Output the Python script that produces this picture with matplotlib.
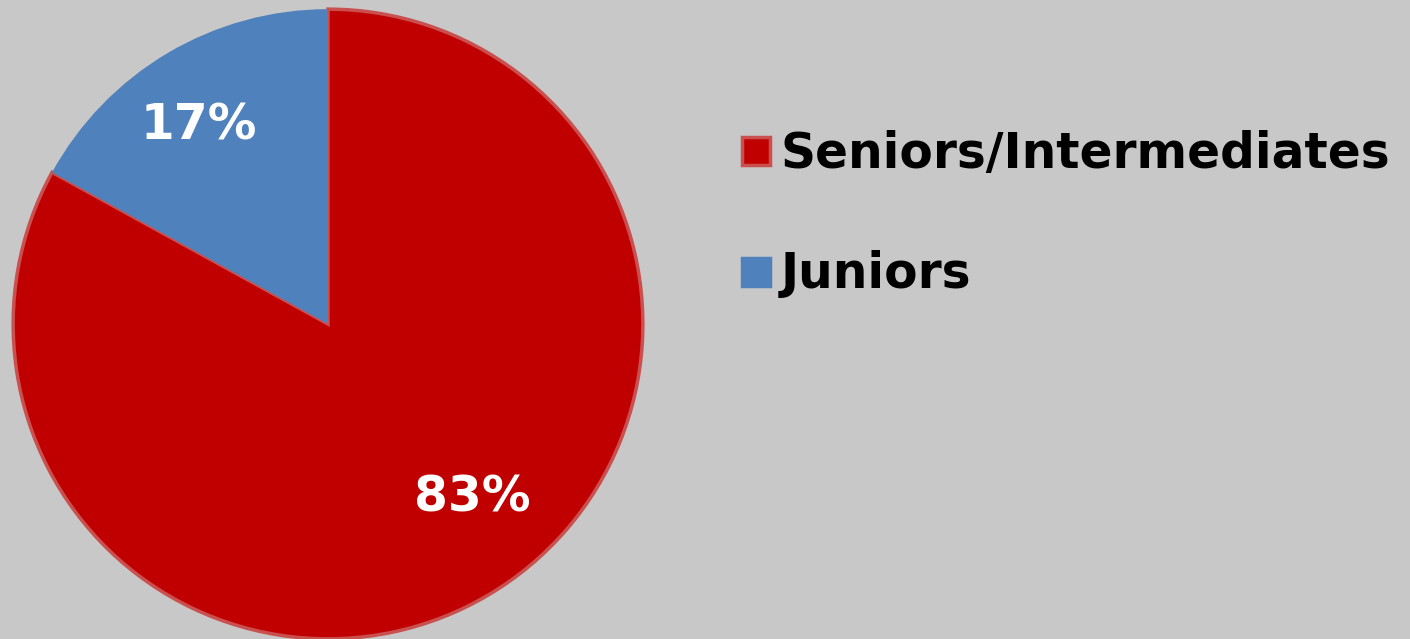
import matplotlib
matplotlib.use("Agg")
import matplotlib.pyplot as plt
from matplotlib.patches import Rectangle

categories = ["Seniors/Intermediates", "Juniors"]
values = [83, 17]
colors = ["#C00000", "#4F81BD"]
edge_colors = ["#C9504F", "#4F81BD"]
pct_labels = ["83%", "17%"]

W, H = 1410, 639
bg = "#C8C8C8"
fig = plt.figure(figsize=(W / 100, H / 100), dpi=100, facecolor=bg)

cx, cy, R = 328, 315, 318
ax = fig.add_axes([(cx - R) / W, (cy - R) / H, 2 * R / W, 2 * R / H])
ax.set_facecolor(bg)
wedges, _ = ax.pie(values, colors=colors, startangle=90, counterclock=False,
                   radius=1, wedgeprops=dict(linewidth=2.5))
for w, ec in zip(wedges, edge_colors):
    w.set_edgecolor(ec)
    w.set_clip_on(False)
wedges[1].set_linewidth(0)
ax.set_xlim(-1.01, 1.01)
ax.set_ylim(-1.01, 1.01)
ax.set_aspect("equal")
ax.axis("off")

label_pos = [(0.457, -0.597), (-0.41, 0.585)]
for (x, y), t in zip(label_pos, pct_labels):
    ax.text(x, y, t, color="white", fontsize=35, fontweight="bold",
            ha="center", va="baseline", family="DejaVu Sans")

# legend
baselines = [168, 288]
sq_centers = [151, 272]
for cat, col, ec, yb, ys in zip(categories, colors, edge_colors, baselines, sq_centers):
    fig.patches.append(Rectangle((742 / W, 1 - (ys + 14) / H), 28 / W, 28 / H,
                                 transform=fig.transFigure, facecolor=col,
                                 edgecolor=ec, linewidth=2.5))
    fig.text(781 / W, 1 - yb / H, cat, fontsize=35, fontweight="bold",
             ha="left", va="baseline", family="DejaVu Sans", color="black")

fig.savefig("out.png", dpi=100, facecolor=bg)
